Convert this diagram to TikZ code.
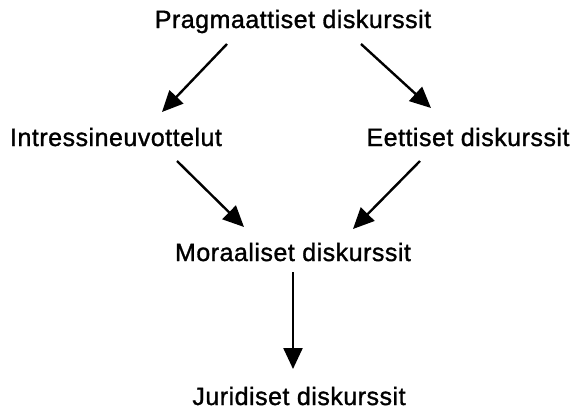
\documentclass[tikz,border=0pt]{standalone}
\usepackage{fontspec}
\setmainfont{Liberation Sans}[LetterSpace=2,FakeBold=1.2]
\usetikzlibrary{arrows.meta}
\begin{document}
\begin{tikzpicture}[x=1pt,y=-1pt,
  lbl/.style={anchor=base,inner sep=0pt,font=\fontsize{25}{30}\selectfont},
  arr/.style={line width=2.4pt,-{Triangle[length=21pt,width=19pt]}}]
\useasboundingbox (0,0) rectangle (579,413);
\node[lbl] (P) at (293,28) {Pragmaattiset diskurssit};
\node[lbl] (I) at (116,146) {Intressineuvottelut};
\node[lbl] (E) at (468,146) {Eettiset diskurssit};
\node[lbl] (M) at (293,261) {Moraaliset diskurssit};
\node[lbl] (J) at (299,405) {Juridiset diskurssit};
\coordinate (a1s) at (227,44); \coordinate (a1e) at (162,112);
\coordinate (a2s) at (361,44); \coordinate (a2e) at (431,108);
\coordinate (a3s) at (177,161); \coordinate (a3e) at (244,227);
\coordinate (a4s) at (420,161); \coordinate (a4e) at (353,229);
\coordinate (a5s) at (293,272); \coordinate (a5e) at (293,369);
\draw[arr] (a1s) -- (a1e);
\draw[arr] (a2s) -- (a2e);
\draw[arr] (a3s) -- (a3e);
\draw[arr] (a4s) -- (a4e);
\draw[arr] (a5s) -- (a5e);
\end{tikzpicture}
\end{document}
